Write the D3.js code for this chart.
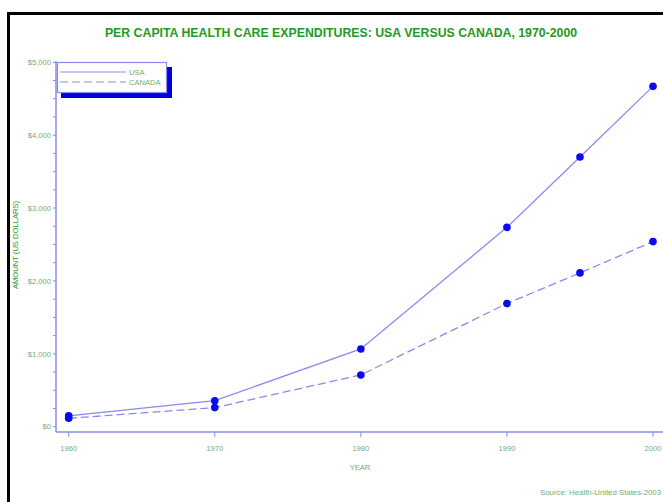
<!DOCTYPE html>
<html>
<head>
<meta charset="utf-8">
<script src="https://cdn.jsdelivr.net/npm/d3@7"></script>
<style>
  body { margin: 0; background: #fff; }
  svg { display: block; font-family: Arial, "Liberation Sans", sans-serif; }
</style>
</head>
<body>
<svg width="663" height="502"></svg>
<script>
var years = [1960, 1970, 1980, 1990, 1995, 2000];
var usa = [148, 357, 1067, 2735, 3700, 4670];
var canada = [115, 262, 710, 1690, 2110, 2540];
var xTicks = [1960, 1970, 1980, 1990, 2000];
var yTicks = [0, 1000, 2000, 3000, 4000, 5000];
var seriesNames = ["USA", "CANADA"];

var svg = d3.select("svg");
var lineColor = "#8a8aee";
var dotColor = "#0a0aee";
var green = "#229922";
var lightGreen = "#74ad74";
var small = "7.6px";

// black frame, runs off the right and bottom edge
svg.append("rect")
    .attr("x", 8.5).attr("y", 13.5)
    .attr("width", 700).attr("height", 520)
    .attr("fill", "none")
    .attr("stroke", "#000")
    .attr("stroke-width", 3);

svg.append("text")
    .attr("x", 341).attr("y", 37)
    .attr("text-anchor", "middle")
    .attr("font-size", "12.3px")
    .attr("font-weight", "bold")
    .attr("fill", green)
    .text("PER CAPITA HEALTH CARE EXPENDITURES: USA VERSUS CANADA, 1970-2000");

var x = d3.scaleLinear().domain([1960, 2000]).range([68.7, 653]);
var y = d3.scaleLinear().domain([0, 5000]).range([426.7, 62.3]);

var axisLeft = 56, axisBottom = 432;

// y axis
var yAxis = svg.append("g");
yAxis.append("line")
    .attr("x1", axisLeft).attr("x2", axisLeft)
    .attr("y1", y(5000) - 1).attr("y2", axisBottom)
    .attr("stroke", lineColor).attr("stroke-width", 1.5);
yAxis.selectAll(".minor")
    .data(d3.range(0, 5001, 250))
    .enter().append("line")
    .attr("x1", axisLeft - 3).attr("x2", axisLeft)
    .attr("y1", function (d) { return y(d); })
    .attr("y2", function (d) { return y(d); })
    .attr("stroke", lineColor).attr("stroke-width", 1);
yAxis.selectAll(".ylab")
    .data(yTicks)
    .enter().append("text")
    .attr("x", axisLeft - 5)
    .attr("y", function (d) { return y(d) + 2.7; })
    .attr("text-anchor", "end")
    .attr("font-size", small)
    .attr("fill", lightGreen)
    .text(function (d) { return "$" + d3.format(",")(d); });

svg.append("text")
    .attr("transform", "translate(18,245) rotate(-90)")
    .attr("text-anchor", "middle")
    .attr("font-size", small)
    .attr("fill", green)
    .text("AMOUNT (US DOLLARS)");

// x axis
var xAxis = svg.append("g");
xAxis.append("line")
    .attr("x1", axisLeft).attr("x2", 663)
    .attr("y1", axisBottom).attr("y2", axisBottom)
    .attr("stroke", lineColor).attr("stroke-width", 1.5);
xAxis.selectAll(".xt")
    .data(xTicks)
    .enter().append("line")
    .attr("x1", function (d) { return x(d); })
    .attr("x2", function (d) { return x(d); })
    .attr("y1", axisBottom).attr("y2", axisBottom + 5)
    .attr("stroke", lineColor).attr("stroke-width", 1);
xAxis.selectAll(".xlab")
    .data(xTicks)
    .enter().append("text")
    .attr("x", function (d) { return x(d); })
    .attr("y", 451)
    .attr("text-anchor", "middle")
    .attr("font-size", small)
    .attr("fill", lightGreen)
    .text(function (d) { return d; });

svg.append("text")
    .attr("x", 360).attr("y", 470)
    .attr("text-anchor", "middle")
    .attr("font-size", small)
    .attr("fill", lightGreen)
    .text("YEAR");

svg.append("text")
    .attr("x", 661).attr("y", 495)
    .attr("text-anchor", "end")
    .attr("font-size", "7.8px")
    .attr("fill", lightGreen)
    .text("Source: Health-United States-2003");

// lines and markers
var line = d3.line()
    .x(function (d) { return x(d.year); })
    .y(function (d) { return y(d.value); });

[usa, canada].forEach(function (vals, i) {
    var pts = years.map(function (yr, j) { return {year: yr, value: vals[j]}; });
    svg.append("path")
        .datum(pts)
        .attr("d", line)
        .attr("fill", "none")
        .attr("stroke", lineColor)
        .attr("stroke-width", 1.3)
        .attr("stroke-dasharray", i == 1 ? "8,4" : null);
    svg.selectAll(".dot" + i)
        .data(pts)
        .enter().append("circle")
        .attr("cx", function (d) { return x(d.year); })
        .attr("cy", function (d) { return y(d.value); })
        .attr("r", 3.8)
        .attr("fill", dotColor);
});

// legend with shadow
var lg = svg.append("g");
lg.append("rect")
    .attr("x", 61).attr("y", 67)
    .attr("width", 111).attr("height", 31)
    .attr("fill", "#0000dd");
lg.append("rect")
    .attr("x", 57.5).attr("y", 62.5)
    .attr("width", 109).attr("height", 30)
    .attr("fill", "#fff")
    .attr("stroke", lineColor).attr("stroke-width", 1.2);
seriesNames.forEach(function (name, i) {
    var ly = 72 + i * 10;
    lg.append("line")
        .attr("x1", 60).attr("x2", 126)
        .attr("y1", ly).attr("y2", ly)
        .attr("stroke", lineColor).attr("stroke-width", 1.2)
        .attr("stroke-dasharray", i == 1 ? "8,4" : null);
    lg.append("text")
        .attr("x", 129).attr("y", ly + 2.7)
        .attr("font-size", small)
        .attr("fill", lightGreen)
        .text(name);
});
</script>
</body>
</html>
